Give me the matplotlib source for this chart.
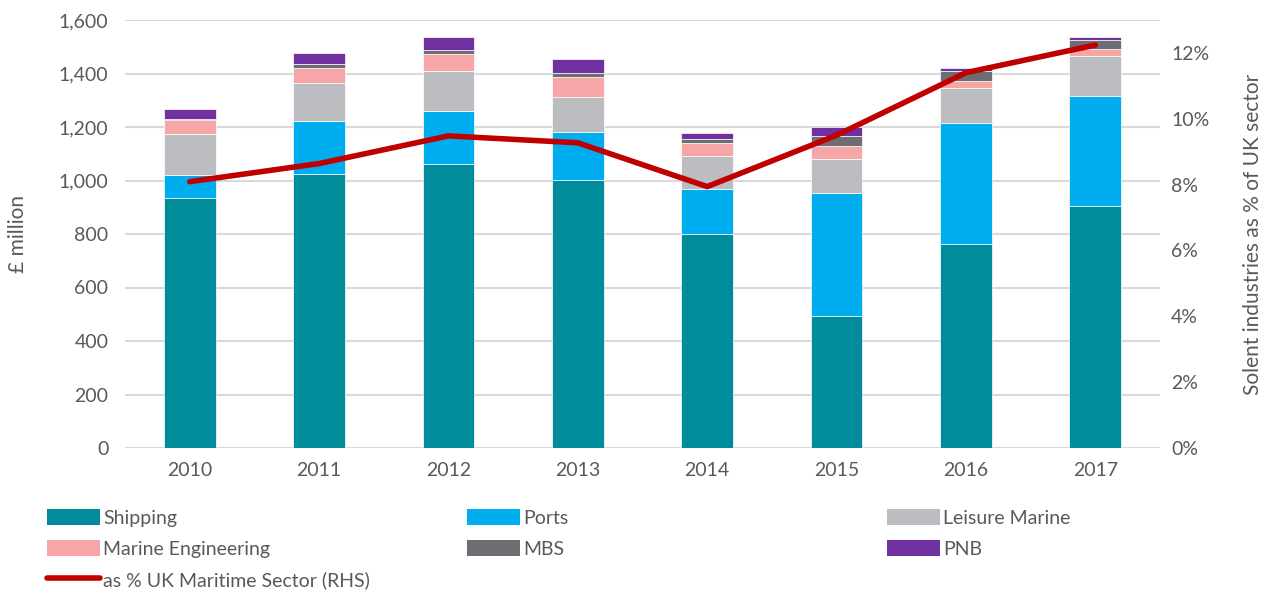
import numpy as np
import matplotlib.pyplot as plt
from matplotlib.patches import Patch
from matplotlib.lines import Line2D
from matplotlib.ticker import FuncFormatter, PercentFormatter

plt.rcParams['font.family'] = ['Lato', 'DejaVu Sans']

years = ['2010', '2011', '2012', '2013', '2014', '2015', '2016', '2017']

# £ million by industry
shipping = [934, 1025, 1061, 1001, 800, 493, 763, 903]
ports = [88, 199, 199, 182, 167, 461, 453, 413]
leisure = [151, 139, 151, 130, 126, 125, 130, 149]
marine_eng = [52, 59, 63, 75, 46, 51, 26, 27]
mbs = [5, 14, 14, 15, 15, 35, 37, 33]
pnb = [38, 41, 47, 52, 24, 34, 12, 11]

# Solent as share of UK maritime sector
share = [0.0809, 0.0864, 0.0948, 0.0927, 0.0794, 0.0950, 0.1140, 0.1224]

names = ['Shipping', 'Ports', 'Leisure Marine', 'Marine Engineering', 'MBS', 'PNB']
colors = ['#008C9A', '#00AEEF', '#BCBDC0', '#F7A6A8', '#6D6E71', '#7030A0']
series = [shipping, ports, leisure, marine_eng, mbs, pnb]

txt = '#595959'

fig = plt.figure(figsize=(12.69, 5.92), dpi=100)
ax = fig.add_axes([125 / 1269, 1 - 448 / 592, (1160 - 125) / 1269, 428 / 592])

x = np.arange(len(years))
bottom = np.zeros(len(years))
for vals, c in zip(series, colors):
    ax.bar(x, vals, 0.4, bottom=bottom, color=c, edgecolor='white', linewidth=0.5, zorder=2)
    bottom += np.array(vals)

ax.set_xlim(-0.5, len(years) - 0.5)
ax.set_ylim(0, 1600)
ax.set_yticks(range(0, 1601, 200))
ax.yaxis.set_major_formatter(FuncFormatter(lambda v, p: f'{int(v):,}'))
ax.set_xticks(x)
ax.set_xticklabels(years)
ax.grid(axis='y', color='#D9D9D9', linewidth=1.5, zorder=0)
ax.set_axisbelow(True)
for s in ax.spines.values():
    s.set_visible(False)
ax.tick_params(length=0, labelsize=14, colors=txt, pad=12)
ax.tick_params(axis='x', pad=10)
ax.set_ylabel('£ million', fontsize=15, color=txt, labelpad=22)

ax2 = ax.twinx()
ax2.plot(x, share, color='#C00000', linewidth=4, solid_capstyle='round', zorder=3)
ax2.set_ylim(0, 0.13)
ax2.set_yticks(np.arange(0, 0.121, 0.02))
ax2.yaxis.set_major_formatter(PercentFormatter(1.0, decimals=0))
for s in ax2.spines.values():
    s.set_visible(False)
ax2.tick_params(length=0, labelsize=14, colors=txt, pad=8)
ax2.set_ylabel('Solent industries as % of UK sector', fontsize=15, color=txt, labelpad=24)

h = [Patch(facecolor=c) for c in colors]
line_h = Line2D([0], [0], color='#C00000', linewidth=4, solid_capstyle='round')
cols = [([h[0], h[3], line_h], [names[0], names[3], 'as % UK Maritime Sector (RHS)']),
        ([h[1], h[4]], [names[1], names[4]]),
        ([h[2], h[5]], [names[2], names[5]])]
xs = [47, 467, 887]
for (hh, ll), xp in zip(cols, xs):
    fig.legend(hh, ll, loc='upper left', bbox_to_anchor=(xp / 1269, 1 - 509 / 592),
               frameon=False, fontsize=14, labelcolor=txt, handlelength=2.7,
               handleheight=0.88, handletextpad=0.2, labelspacing=0.68, borderpad=0,
               borderaxespad=0)

fig.savefig('out.png', dpi=100)
